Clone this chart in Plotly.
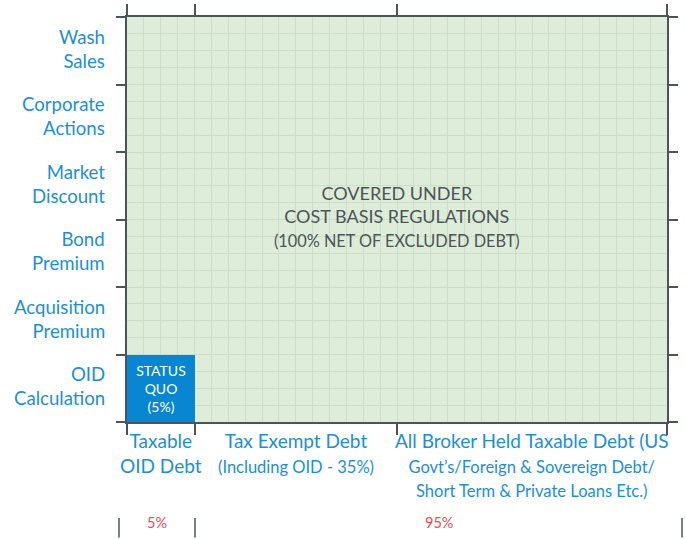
import plotly.graph_objects as go

# ---- data ----
row_labels = ["OID<br>Calculation", "Acquisition<br>Premium", "Bond<br>Premium",
              "Market<br>Discount", "Corporate<br>Actions", "Wash<br>Sales"]
col_titles = ["Taxable", "Tax Exempt Debt", "All Broker Held Taxable Debt (US"]
col_subtitles = ["OID Debt", "(Including OID - 35%)",
                 "Govt\u2019s/Foreign & Sovereign Debt/<br>Short Term & Private Loans Etc.)"]
col_spans = [4, 12, 16]          # column widths in grid units
covered_label = ["COVERED UNDER", "COST BASIS REGULATIONS", "(100% NET OF EXCLUDED DEBT)"]
status_quo_label = "STATUS<br>QUO<br>(5%)"
status_quo_rows = 1              # OID Calculation only
status_quo_cols = 1              # Taxable OID Debt only
share_labels = ["5%", "95%"]

# ---- derived ----
n_rows = len(row_labels)
bounds = [0]
for s in col_spans:
    bounds.append(bounds[-1] + s)
centers = [(bounds[i] + bounds[i + 1]) / 2 for i in range(len(col_spans))]
total = bounds[-1]

BLUE = "#0886d1"
LABEL_BLUE = "#1b8fd6"
AXIS = "#4c5459"
FONT = "Lato"

fig = go.Figure()

# covered region (translucent so grid shows through)
fig.add_trace(go.Bar(
    x=centers, y=[n_rows] * len(centers), width=col_spans, base=0,
    marker=dict(color="rgba(200,225,192,0.6)", line=dict(width=0)),
    hoverinfo="skip", showlegend=False,
))

# status quo box
fig.add_trace(go.Bar(
    x=[centers[0]], y=[status_quo_rows], width=[col_spans[0] * status_quo_cols], base=0,
    marker=dict(color=BLUE, line=dict(width=0)),
    text=[status_quo_label], textposition="inside", insidetextanchor="middle",
    textangle=0, textfont=dict(color="white", size=14, family=FONT),
    hoverinfo="skip", showlegend=False,
))

annotations = []
# y labels
for i, lab in enumerate(row_labels):
    annotations.append(dict(
        x=0, y=i + 0.5, xref="x", yref="y", text=lab, showarrow=False,
        xanchor="right", yanchor="middle", align="right", xshift=-20, yshift=2,
        font=dict(size=18.6, color=LABEL_BLUE, family=FONT)))
# x labels
for c, t, s in zip(centers, col_titles, col_subtitles):
    if s.startswith("(") or "<br>" in s:
        txt = t + "<br><span style='font-size:16.5px'>" + s + "</span>"
    else:
        txt = t + "<br>" + s
    annotations.append(dict(
        x=c, y=0, xref="x", yref="paper", text=txt, showarrow=False,
        xanchor="center", yanchor="top", align="center", yshift=-5,
        font=dict(size=19, color=LABEL_BLUE, family=FONT)))
# covered label
annotations.append(dict(
    x=total / 2, y=n_rows / 2, xref="x", yref="y",
    text=covered_label[0] + "<br>" + covered_label[1] +
    "<br><span style='font-size:16.3px'>" + covered_label[2] + "</span>",
    showarrow=False, xanchor="center", yanchor="middle", align="center", yshift=4,
    font=dict(size=18, color=AXIS, family=FONT)))

# share brackets below the chart (paper coordinates)
plot_w = 540.0
br = [(119 - 127) / plot_w, (195 - 127) / plot_w, (682 - 127) / plot_w]
shapes = []
for xb in br:
    shapes.append(dict(type="line", xref="paper", yref="paper", x0=xb, x1=xb,
                       y0=-0.237, y1=-0.285, line=dict(color=AXIS, width=1.5)))
for k, lab in enumerate(share_labels):
    annotations.append(dict(
        x=(br[k] + br[k + 1]) / 2, y=-0.249, xref="paper", yref="paper", text=lab,
        showarrow=False, xanchor="center", yanchor="middle",
        font=dict(size=14.5, color="#ef4a55", family=FONT)))

grid_col = "rgb(208,220,210)"
fig.update_layout(
    width=686, height=539,
    margin=dict(l=127, r=19, t=17, b=117, autoexpand=False),
    paper_bgcolor="white", plot_bgcolor="white",
    barmode="overlay", bargap=0,
    xaxis=dict(range=[0, total], tickmode="array", tickvals=bounds,
               showticklabels=False, ticks="outside", ticklen=11, tickwidth=2,
               tickcolor=AXIS, showline=True, linecolor=AXIS, linewidth=2,
               mirror="allticks", showgrid=True, gridcolor=grid_col, gridwidth=1.2,
               zeroline=False, fixedrange=True, automargin=False,
               minor=dict(tickmode="linear", tick0=0, dtick=1, showgrid=True,
                          gridcolor=grid_col, gridwidth=1.2, ticks="")),
    yaxis=dict(range=[0, n_rows], tickmode="array", tickvals=list(range(n_rows + 1)),
               showticklabels=False, ticks="outside", ticklen=9, tickwidth=2,
               tickcolor=AXIS, showline=True, linecolor=AXIS, linewidth=2,
               mirror="allticks", showgrid=True, gridcolor=grid_col, gridwidth=1.2,
               zeroline=False, fixedrange=True, automargin=False,
               minor=dict(tickmode="linear", tick0=0, dtick=0.25, showgrid=True,
                          gridcolor=grid_col, gridwidth=1.2, ticks="")),
    annotations=annotations, shapes=shapes,
    font=dict(family=FONT),
)

fig.write_html("out.html", config={"displayModeBar": False},
               post_script="document.body.style.margin='0';")
